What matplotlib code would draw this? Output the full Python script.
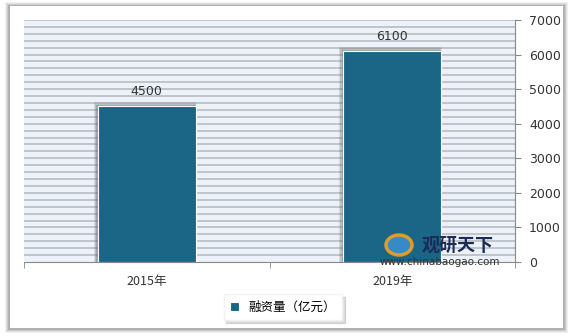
import matplotlib
matplotlib.use("Agg")
import matplotlib.pyplot as plt
import matplotlib.patches as patches
import numpy as np

plt.rcParams['font.family'] = ['Noto Sans CJK SC', 'DejaVu Sans']

categories = ['2015年', '2019年']
values = [4500, 6100]
series_name = '融资量（亿元）'
yticks = [0, 1000, 2000, 3000, 4000, 5000, 6000, 7000]

bar_color = '#1b6586'
W, H = 574, 336

fig = plt.figure(figsize=(W / 100, H / 100), dpi=100)
fig.patch.set_facecolor('white')

# outer panel with a soft shadow
for i, a in enumerate([0.05, 0.07, 0.09, 0.12]):
    d = 4 - i
    fig.patches.append(patches.Rectangle(((9 - d) / W, 1 - (329 + d) / H),
                                         (555 + 2 * d) / W, (323 + 2 * d) / H,
                                         transform=fig.transFigure, facecolor='black',
                                         edgecolor='none', alpha=a, zorder=-10))
fig.patches.append(patches.Rectangle((10 / W, 1 - 328 / H), 553 / W, 322 / H,
                                     transform=fig.transFigure, facecolor='white',
                                     edgecolor='none', zorder=-9))

ax = fig.add_axes([24 / W, 1 - 262 / H, 491 / W, 242 / H])
ax.set_zorder(1)
ax.set_facecolor('#ebf2f9')
x = np.arange(len(categories))
ax.set_xlim(-0.5, len(categories) - 0.5)
ax.set_ylim(0, 7000)

# stripes
for yv in np.arange(200, 7001, 200):
    ax.axhline(yv, color='#bdc0c4', lw=1.3, zorder=1)

# soft bar shadow (up and to the left) + bars
for dx, dy, a in [(0.016, 120, 0.18), (0.011, 80, 0.25), (0.006, 40, 0.35)]:
    ax.bar(x - dx / 2, [v + dy for v in values], width=0.4 + dx, color='#6f6f6f',
           alpha=a, zorder=2)
ax.bar(x, values, width=0.4, color=bar_color, edgecolor='white', linewidth=0.8, zorder=3,
       label=series_name)
for xi, v in zip(x, values):
    ax.text(xi, v + 230, str(v), ha='center', va='bottom', fontsize=9, color='#333333',
            family='DejaVu Sans', zorder=4)

ax.yaxis.tick_right()
ax.set_yticks(yticks)
ax.set_yticklabels([str(t) for t in yticks], fontsize=9, color='#333333', family='DejaVu Sans')
ax.tick_params(axis='y', length=4, color='#888888', pad=6)
ax.set_xticks(x)
ax.set_xticklabels(categories, fontsize=9, color='#333333')
ax.tick_params(axis='x', length=0, pad=9)
ax.set_xticks([-0.5, 0.5, 1.5], minor=True)
ax.tick_params(axis='x', which='minor', length=4, color='#888888')

for s in ['top', 'left']:
    ax.spines[s].set_visible(False)
ax.spines['right'].set_color('#888888')
ax.spines['bottom'].set_color('#888888')

# watermark
fig.text(458 / W, 1 - 245 / H, '观研天下', fontsize=13, fontweight='bold',
         color='#1c2a55', ha='center', va='center', zorder=6)
fig.text(440 / W, 1 - 262 / H, 'www.chinabaogao.com', fontsize=7.5,
         color='#333333', ha='center', va='center', family='DejaVu Sans', zorder=6)
fig.patches.append(patches.Ellipse((399 / W, 1 - 245 / H), 26 / W, 20 / H,
                                   transform=fig.transFigure, facecolor='#3a8fd0',
                                   edgecolor='#f0a020', lw=2.5, alpha=0.9, zorder=6))

leg = fig.legend(loc='center', bbox_to_anchor=(283 / W, 1 - 307 / H), fontsize=9,
                 frameon=True, fancybox=False,
                 shadow={'color': '#000000', 'alpha': 0.12, 'ox': 2, 'oy': -2},
                 handlelength=0.7, handleheight=0.7, borderpad=0.5, edgecolor='#f2f2f2')
leg.set_zorder(5)

fig.savefig('out.png', dpi=100)
